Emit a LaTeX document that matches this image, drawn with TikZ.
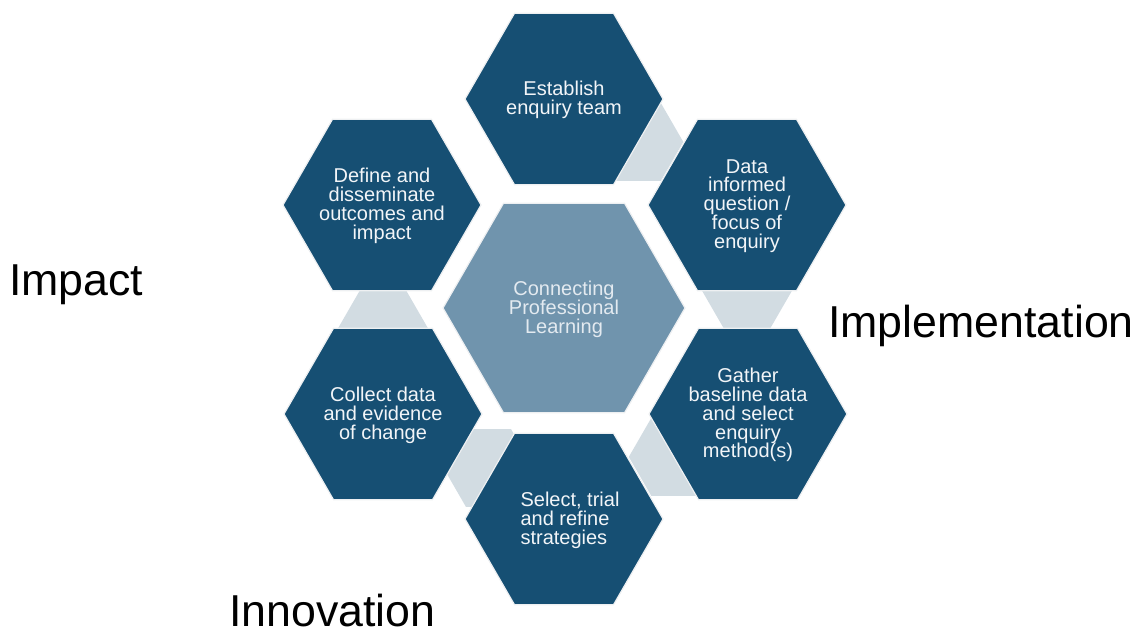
\documentclass[tikz,border=0pt]{standalone}
\usepackage{fontspec}
\setmainfont{Liberation Sans}
\usetikzlibrary{shapes.geometric}
\definecolor{hexdark}{HTML}{164F73}
\definecolor{hexmid}{HTML}{7094AD}
\definecolor{conn}{HTML}{D2DCE2}
\definecolor{hexline}{HTML}{EEF0F2}
\definecolor{txtlight}{HTML}{F2F5F8}
\definecolor{txtmid}{HTML}{E3EAF0}
\begin{document}
\begin{tikzpicture}[x=1pt,y=-1pt,
  outerhex/.style={regular polygon, regular polygon sides=6, minimum size=198pt, inner sep=0pt, outer sep=0pt, fill=hexdark, draw=hexline, line width=1.2pt},
  centerhex/.style={regular polygon, regular polygon sides=6, minimum size=242pt, inner sep=0pt, outer sep=0pt, fill=hexmid, draw=hexline, line width=1.2pt},
  connhex/.style={regular polygon, regular polygon sides=6, minimum size=90pt, inner sep=0pt, outer sep=0pt, fill=conn, draw=none},
  hextext/.style={text=txtlight, align=center, font=\fontsize{20}{18.9}\selectfont, inner sep=0pt},
  sidelabel/.style={font=\fontsize{44.7}{50}\selectfont, anchor=base west, inner sep=0pt, text=black}]
\useasboundingbox (0,0) rectangle (1145,634);
% connectors (behind)
\node[connhex] (c1) at (638.3,141.9) {};
\node[connhex] (c2) at (747,290.7) {};
\node[connhex] (c3) at (673.8,456.9) {};
\node[connhex] (c4) at (488.5,468) {};
\node[connhex] (c5) at (383,328.3) {};
% hexagons
\node[centerhex] (hc) at (564,308) {};
\node[outerhex] (h1) at (564,99) {};
\node[outerhex] (h2) at (747,205) {};
\node[outerhex] (h3) at (748,414) {};
\node[outerhex] (h4) at (564,519) {};
\node[outerhex] (h5) at (383,414) {};
\node[outerhex] (h6) at (382,205) {};
% texts
\node[hextext, text=txtmid] (tc) at (564,309) {Connecting\\Professional\\Learning};
\node[hextext] (t1) at (564,100) {Establish\\enquiry team};
\node[hextext] (t2) at (747,206) {Data\\informed\\question /\\focus of\\enquiry};
\node[hextext] (t3) at (748,415) {Gather\\baseline data\\and select\\enquiry\\method(s)};
\node[hextext, align=left] (t4) at (570,520) {Select, trial\\and refine\\strategies};
\node[hextext] (t5) at (383,415) {Collect data\\and evidence\\of change};
\node[hextext] (t6) at (382,206) {Define and\\disseminate\\outcomes and\\impact};
% side labels
\node[sidelabel] (limpact) at (9,295) {Impact};
\node[sidelabel] (limpl) at (828,337) {Implementation};
\node[sidelabel] (linnov) at (229,626) {Innovation};
\end{tikzpicture}
\end{document}
